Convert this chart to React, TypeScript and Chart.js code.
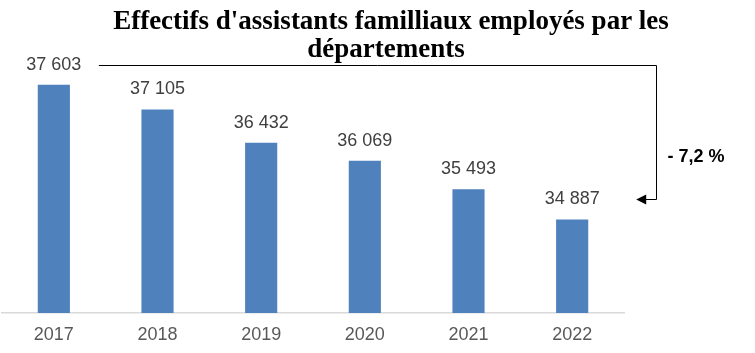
import React, { useEffect, useRef } from 'react';
import { Chart, registerables } from 'chart.js';

Chart.register(...registerables);

const years: string[] = ['2017', '2018', '2019', '2020', '2021', '2022'];
const effectifs: number[] = [37603, 37105, 36432, 36069, 35493, 34887];
const titleLines: string[] = ["Effectifs d'assistants familliaux employés par les", 'départements'];
const variationLabel = '- 7,2 %';
const yMin = 33000;
const yMax = 38000;

const SANS = '"Liberation Sans", Arial, sans-serif';
const SERIF = '"Liberation Serif", "Times New Roman", serif';

const fmt = (v: number) => v.toString().replace(/\B(?=(\d{3})+(?!\d))/g, ' ');

const overlayPlugin = {
  id: 'overlay',
  afterDraw(chart: any) {
    const ctx = chart.ctx as CanvasRenderingContext2D;
    const area = chart.chartArea;
    const meta = chart.getDatasetMeta(0);
    ctx.save();

    // value labels
    ctx.font = `18px ${SANS}`;
    ctx.fillStyle = '#404040';
    ctx.textAlign = 'center';
    ctx.textBaseline = 'middle';
    meta.data.forEach((bar: any, i: number) => {
      ctx.fillText(fmt(effectifs[i]), bar.x, bar.y - 20);
    });

    // title
    ctx.font = `bold 27px ${SERIF}`;
    ctx.fillStyle = '#000000';
    ctx.fillText(titleLines[0], 391, 22);
    ctx.fillText(titleLines[1], 386, 50);

    // bracket with arrow
    const first = meta.data[0];
    const last = meta.data[meta.data.length - 1];
    const yTop = Math.round(area.top) + 0.5;
    const yBot = Math.round(last.y - 20) + 0.5;
    const xR = Math.round(area.right + 32) + 0.5;
    ctx.strokeStyle = '#000000';
    ctx.lineWidth = 1;
    ctx.beginPath();
    ctx.moveTo(first.x + 45, yTop);
    ctx.lineTo(xR, yTop);
    ctx.lineTo(xR, yBot);
    ctx.lineTo(last.x + 72, yBot);
    ctx.stroke();
    const tip = last.x + 64;
    ctx.beginPath();
    ctx.moveTo(tip, yBot);
    ctx.lineTo(tip + 10, yBot - 5);
    ctx.lineTo(tip + 10, yBot + 5);
    ctx.closePath();
    ctx.fillStyle = '#000000';
    ctx.fill();

    // variation text
    ctx.font = `bold 18px ${SANS}`;
    ctx.textAlign = 'left';
    ctx.fillStyle = '#000000';
    ctx.fillText(variationLabel, xR + 11, 157);

    ctx.restore();
  },
};

export default function App() {
  const canvasRef = useRef<HTMLCanvasElement | null>(null);

  useEffect(() => {
    if (!canvasRef.current) return;
    const chart = new Chart(canvasRef.current, {
      type: 'bar',
      data: {
        labels: years,
        datasets: [
          {
            data: effectifs,
            backgroundColor: '#4F81BD',
            borderWidth: 0,
            categoryPercentage: 1,
            barPercentage: 0.31,
          },
        ],
      },
      options: {
        animation: false,
        responsive: false,
        maintainAspectRatio: false,
        events: [],
        layout: { padding: { top: 65, left: 2, right: 131, bottom: 7 } },
        plugins: {
          legend: { display: false },
          title: { display: false },
          tooltip: { enabled: false },
        },
        scales: {
          x: {
            grid: { display: false, drawTicks: false },
            border: { display: true, color: '#D9D9D9', width: 1.5 },
            ticks: {
              color: '#595959',
              font: { family: SANS, size: 18 },
              padding: 11,
            },
            afterFit(scale: any) {
              scale.height = 33;
            },
          },
          y: {
            display: false,
            min: yMin,
            max: yMax,
          },
        },
      },
      plugins: [overlayPlugin],
    });
    return () => chart.destroy();
  }, []);

  return (
    <div style={{ position: 'absolute', left: 0, top: 0, width: 755, height: 353, background: '#fff' }}>
      <canvas ref={canvasRef} width={755} height={353} style={{ display: 'block' }} />
    </div>
  );
}
